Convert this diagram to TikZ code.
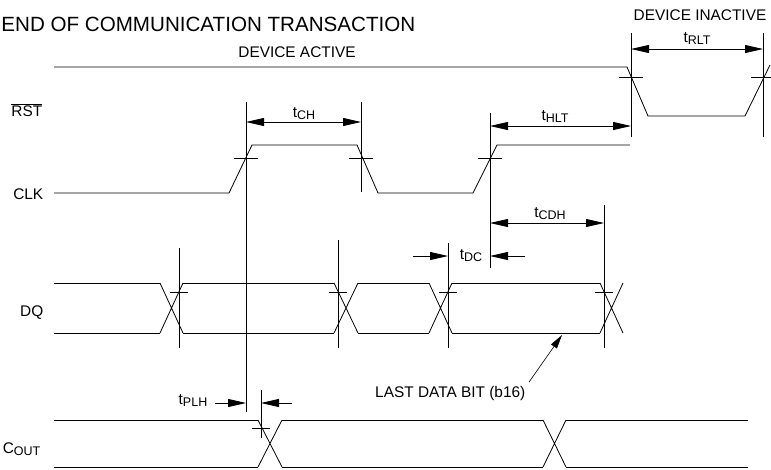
\documentclass[tikz,border=0pt]{standalone}
\usepackage{fontspec}
\setmainfont{Liberation Sans}
\usetikzlibrary{arrows.meta}

% t with a lowered subscript
\newcommand{\tsig}[1]{t\raisebox{-2.5pt}{\fontsize{12.5}{13}\selectfont #1}}

\begin{document}
\begin{tikzpicture}[x=1pt,y=-1pt,line width=0.8pt,
  >={Triangle[length=18pt,width=8pt]},
  lbl/.style={font=\fontsize{15.4}{18}\selectfont},
  sig/.style={lbl,anchor=base east},
  tlbl/.style={lbl,anchor=base}]
  \useasboundingbox (0,0) rectangle (771,469);

  % headings
  \node[anchor=base west,inner sep=0pt,font=\fontsize{20.6}{24}\selectfont] (title) at (1,31) {END OF COMMUNICATION TRANSACTION};
  \node[tlbl] (active) at (297,57) {DEVICE ACTIVE};
  \node[tlbl] (inactive) at (700,20) {DEVICE INACTIVE};

  % signal names
  \node[sig] (rst) at (46,116) {$\overline{\mbox{RST}}$};
  \node[sig] (clk) at (47,199) {CLK};
  \node[sig] (dq) at (47,316) {DQ};
  \node[sig] (cout) at (44,453) {C\raisebox{-2.5pt}{\fontsize{12.5}{13}\selectfont OUT}};

  % RST and CLK
  \draw (54,67) -- (627,67) -- (648,116) -- (745,116) -- (770,65);
  \draw (54,193) -- (229,193) -- (252,145) -- (357,145) -- (378,193)
    -- (473,193) -- (497,145) -- (630,145);

  % DQ bus
  \foreach \a/\b in {54/160,183/334,358/429,452/600}
    \draw (\a,283) -- (\b,283) (\a,333) -- (\b,333);
  \foreach \a/\b in {160/183,334/358,429/452,600/623}
    \draw (\a,283) -- (\b,333) (\a,333) -- (\b,283);

  % C_OUT bus
  \foreach \a/\b in {54/258,282/543,566/748}
    \draw (\a,420) -- (\b,420) (\a,467) -- (\b,467);
  \foreach \a/\b in {258/282,543/566}
    \draw (\a,420) -- (\b,467) (\a,467) -- (\b,420);

  % reference lines with crossing ticks
  \foreach \n/\x/\t/\b/\y/\w in {rstA/631/33/137/77/12, rstB/763/33/137/77/12,
      clkA/246/102/412/158/12, clkB/361/102/192/158/12, clkC/490/113/268/158/12,
      dqA/179/248/348/292/9, dqB/338/240/348/292/9, dqC/448/243/348/292/9,
      dqD/604/205/348/292/9, coutA/261/390/438/428/9} {
    \draw (\x,\t) coordinate (\n) -- (\x,\b);
    \draw (\x-\w,\y) -- (\x+\w,\y);
  }

  % timing parameters
  \draw[<->] (rstA |- 0,49) -- (rstB |- 0,49);
  \node[tlbl] (trlt) at (697,42) {\tsig{RLT}};
  \draw[<->] (clkA |- 0,122) -- (clkB |- 0,122);
  \node[tlbl] (tch) at (304,117) {\tsig{CH}};
  \draw[<->] (clkC |- 0,126) -- (rstA |- 0,126);
  \node[tlbl] (thlt) at (555,120) {\tsig{HLT}};
  \draw[<->] (clkC |- 0,223) -- (dqD |- 0,223);
  \node[tlbl] (tcdh) at (550,217) {\tsig{CDH}};

  \coordinate (dcL) at (413,256);
  \coordinate (dcR) at (525,256);
  \draw[->] (dcL) -- (dqC |- dcL);
  \draw[->] (dcR) -- (clkC |- dcR);
  \node[tlbl] (tdc) at (471,259) {\tsig{DC}};

  \coordinate (plhL) at (215,403);
  \coordinate (plhR) at (292,403);
  \draw[->] (plhL) -- (clkA |- plhL);
  \draw[->] (plhR) -- (coutA |- plhR);
  \node[tlbl] (tplh) at (193,404) {\tsig{PLH}};

  % last data bit
  \node[lbl,anchor=base east] (last) at (529,397) {LAST DATA BIT (b16)};
  \coordinate (bit) at (562,335);
  \draw[-{Triangle[length=14pt,width=7pt]},line width=0.6pt] (last.north east) -- (bit);
\end{tikzpicture}
\end{document}
